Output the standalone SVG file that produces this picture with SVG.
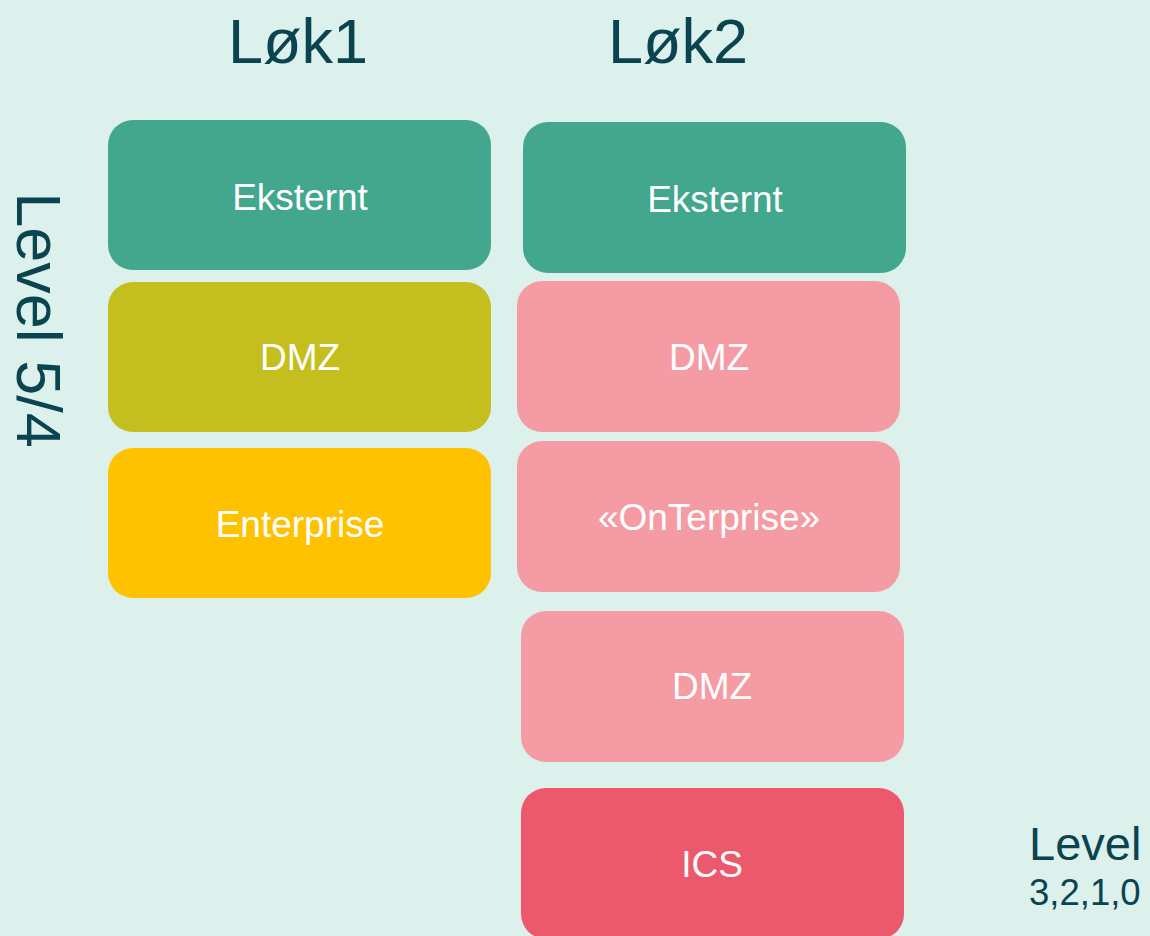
<svg xmlns="http://www.w3.org/2000/svg" width="1150" height="936" viewBox="0 0 1150 936">
  <style>
    .lbl { font-family: "Liberation Sans", Arial, sans-serif; fill: #ffffff; font-size: 37px; text-anchor: middle; }
    .ttl { font-family: "Liberation Sans", Arial, sans-serif; fill: #0a4450; }
    .green { fill: #42a78c; }
    .olive { fill: #c4be1e; }
    .yellow { fill: #ffc200; }
    .pink { fill: #f49ba4; }
    .red { fill: #ec596c; }
  </style>
  <rect width="1150" height="936" fill="#ddf1ec"/>

  <!-- column headings -->
  <text class="ttl" x="298" y="63" font-size="63" text-anchor="middle">Løk1</text>
  <text class="ttl" x="678" y="63" font-size="63" text-anchor="middle">Løk2</text>

  <!-- side labels -->
  <text class="ttl" transform="translate(17,320) rotate(90)" font-size="63" text-anchor="middle">Level 5/4</text>
  <text class="ttl" x="1029" y="860" font-size="47">Level</text>
  <text class="ttl" x="1029" y="905" font-size="36.5">3,2,1,0</text>

  <!-- Løk1 stack -->
  <g id="lok1-eksternt">
    <rect class="green" x="108" y="120" width="383" height="150" rx="25"/>
    <text class="lbl" x="300" y="210">Eksternt</text>
  </g>
  <g id="lok1-dmz">
    <rect class="olive" x="108" y="282" width="383" height="150" rx="25"/>
    <text class="lbl" x="300" y="370">DMZ</text>
  </g>
  <g id="lok1-enterprise">
    <rect class="yellow" x="108" y="448" width="383" height="150" rx="25"/>
    <text class="lbl" x="300" y="537">Enterprise</text>
  </g>

  <!-- Løk2 stack -->
  <g id="lok2-eksternt">
    <rect class="green" x="523" y="122" width="383" height="151" rx="25"/>
    <text class="lbl" x="715" y="212">Eksternt</text>
  </g>
  <g id="lok2-dmz-upper">
    <rect class="pink" x="517" y="281" width="383" height="151" rx="25"/>
    <text class="lbl" x="709" y="370">DMZ</text>
  </g>
  <g id="lok2-onterprise">
    <rect class="pink" x="517" y="441" width="383" height="151" rx="25"/>
    <text class="lbl" x="709" y="530">«OnTerprise»</text>
  </g>
  <g id="lok2-dmz-lower">
    <rect class="pink" x="521" y="611" width="383" height="151" rx="25"/>
    <text class="lbl" x="712" y="699">DMZ</text>
  </g>
  <g id="lok2-ics">
    <rect class="red" x="521" y="788" width="383" height="151" rx="25"/>
    <text class="lbl" x="712" y="877">ICS</text>
  </g>

  <g id="connectors"/>
</svg>
